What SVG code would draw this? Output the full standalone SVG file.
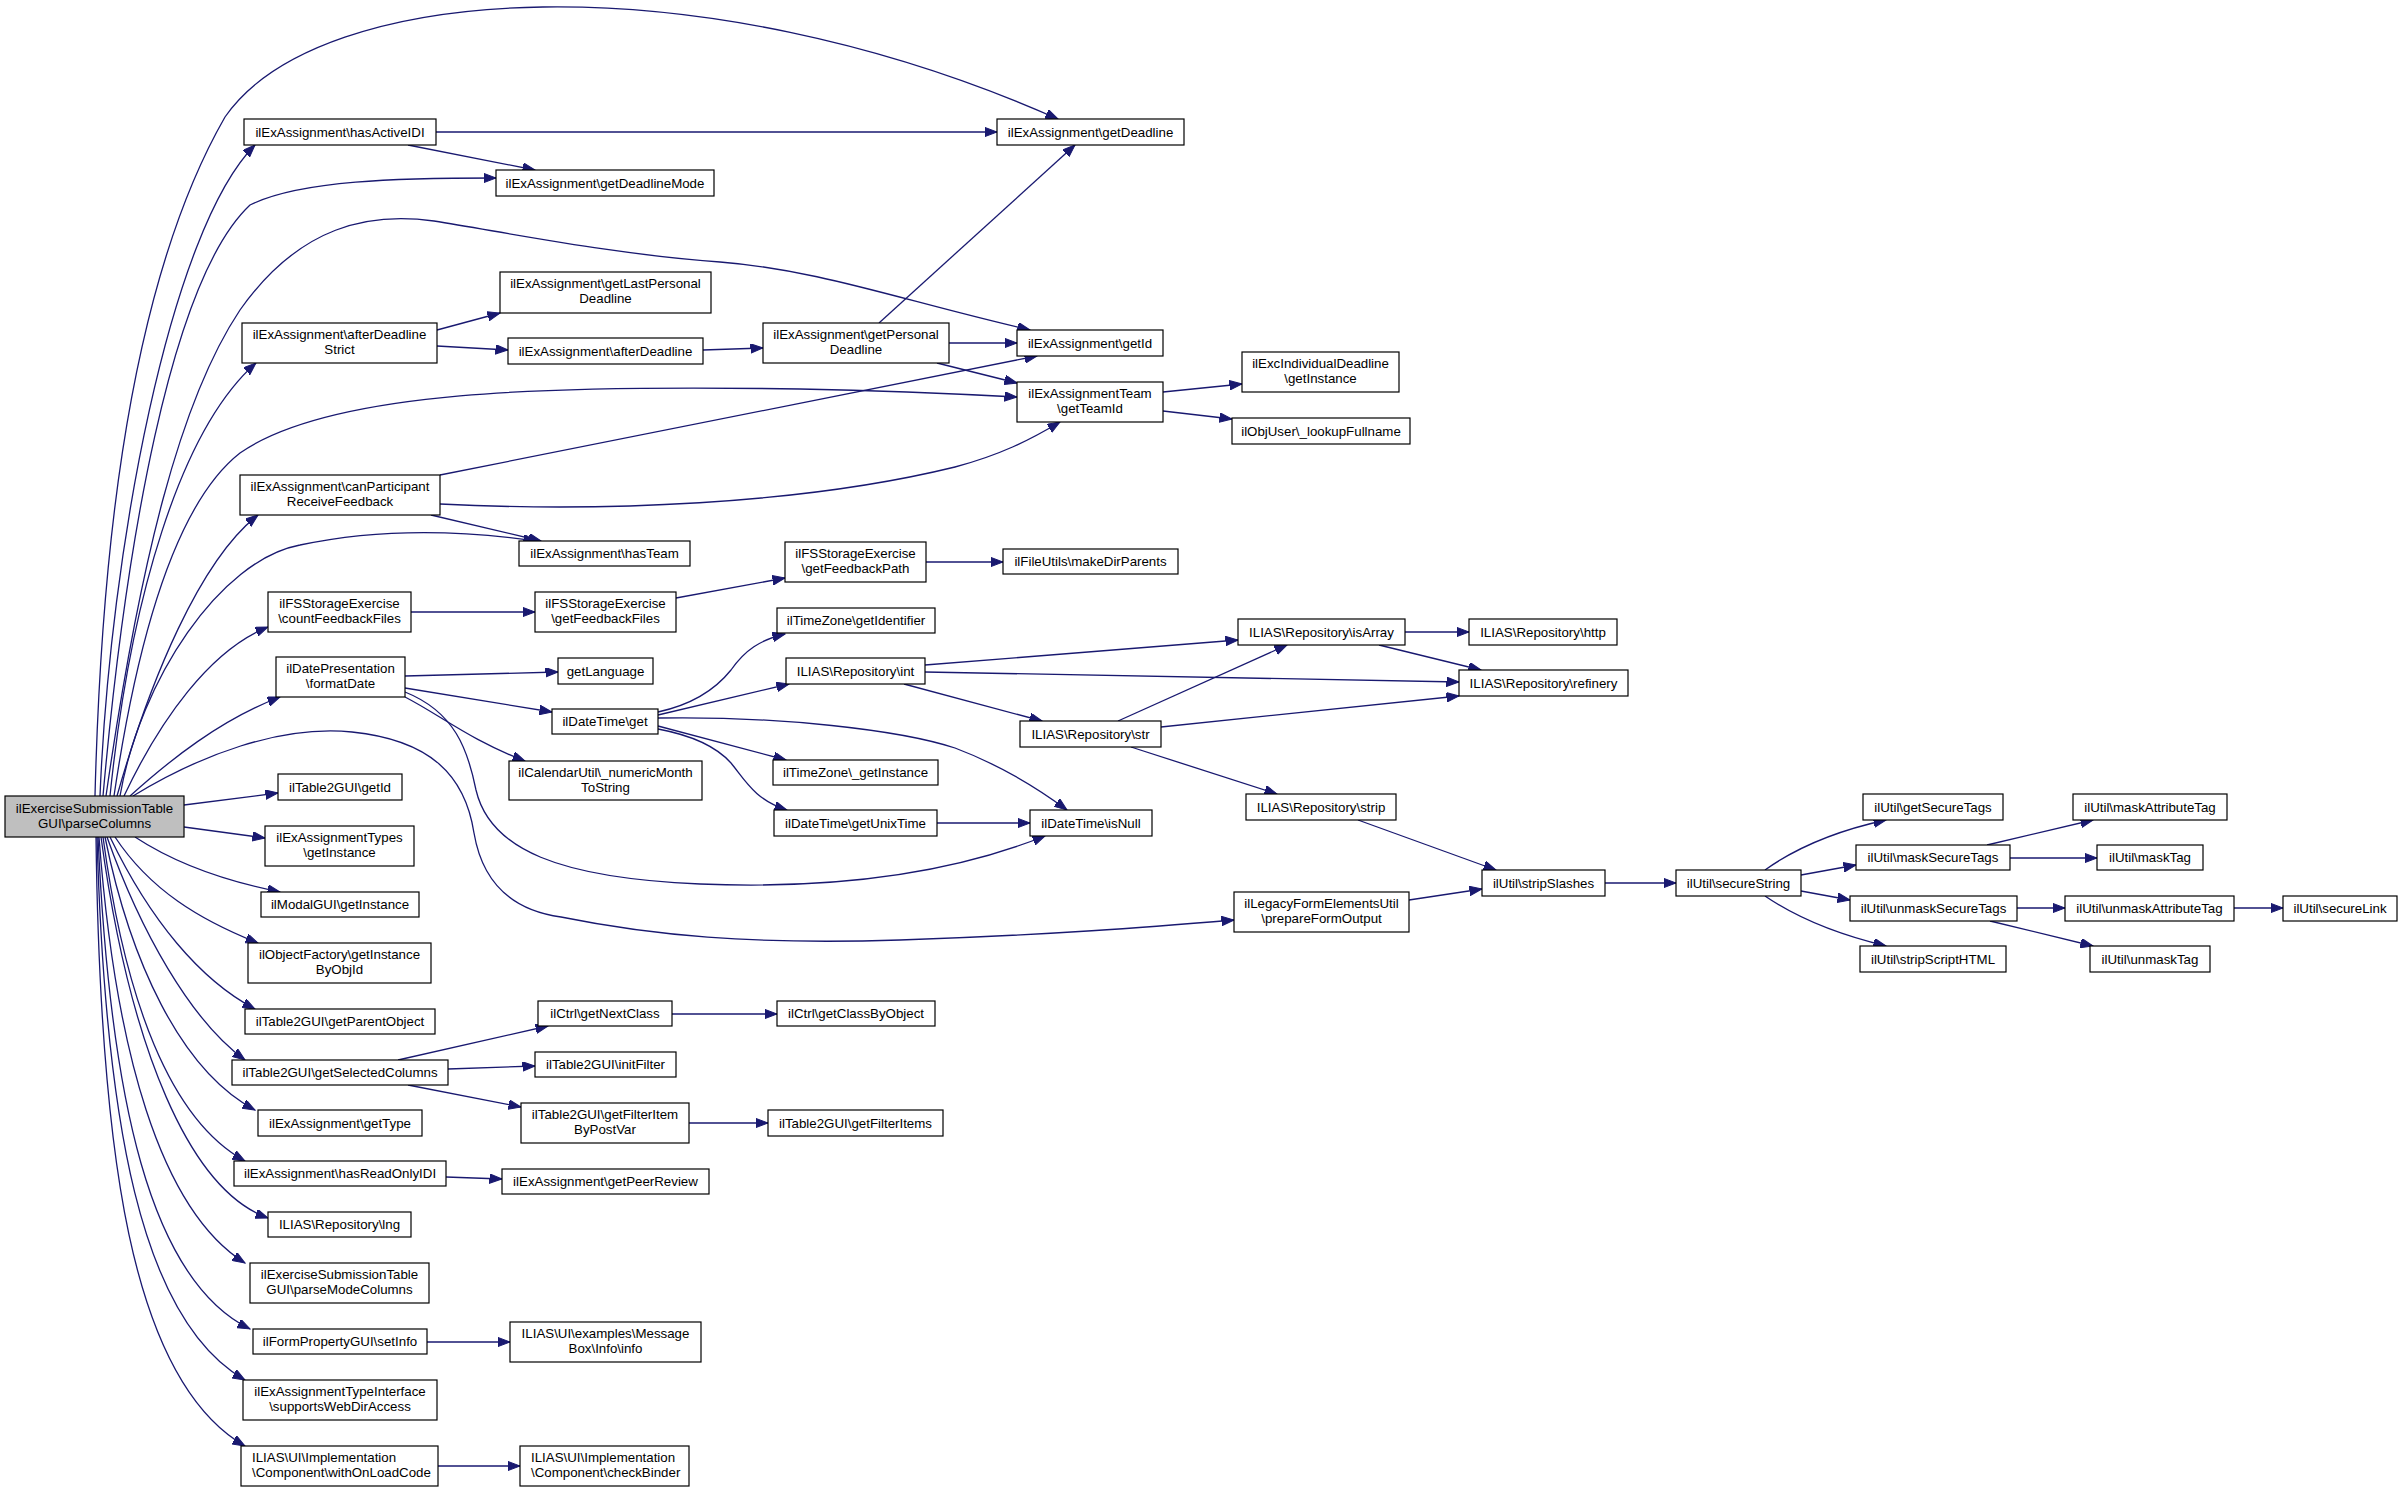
<svg xmlns="http://www.w3.org/2000/svg" width="2403" height="1492" viewBox="0 0 2403 1492">
<style>
.n rect{fill:#fff;stroke:#000;stroke-width:1.2}
.m rect{fill:#bfbfbf}
text{font-family:"Liberation Sans",Arial,sans-serif;font-size:13.3px;text-anchor:middle;fill:#000}
text.l{text-anchor:start}
#edges path{fill:none;stroke:#191970;stroke-width:1.3;marker-end:url(#arr)}
</style>
<defs>
<marker id="arr" markerWidth="14" markerHeight="10" refX="12.5" refY="4.75" orient="auto" markerUnits="userSpaceOnUse">
<path d="M0,0 L12.5,4.75 L0,9.5 z" fill="#191970" stroke="#191970" stroke-width="1"/>
</marker>
</defs>
<rect width="2403" height="1492" fill="#fff"/>
<g id="edges">
<path d="M95 796 C100 600 120 300 225 117 C320 -20 700 -40 1058 119"/>
<path d="M100 796 C110 550 170 230 255 145"/>
<path d="M103 796 C125 550 170 280 250 205 C300 180 400 178 496 178"/>
<path d="M106 796 C140 560 180 400 240 310 C300 225 370 212 434 221 C520 235 620 255 720 262 C820 270 900 300 1030 330"/>
<path d="M110 796 C130 600 180 430 256 363"/>
<path d="M114 796 C140 620 180 500 240 453 C330 390 550 385 800 389 C900 391 960 394 1017 397"/>
<path d="M117 796 C150 680 200 560 258 515"/>
<path d="M120 796 C140 680 220 560 300 545 C380 528 460 530 536 541"/>
<path d="M124 796 C160 720 210 650 268 627"/>
<path d="M130 796 C170 760 220 720 280 697"/>
<path d="M133 796 C200 755 280 725 352 732 C430 740 465 775 474 833 C482 880 510 910 561 917 C650 935 750 945 900 940 C1050 935 1150 927 1234 920"/>
<path d="M184 805 L278 793"/>
<path d="M184 827 L265 838"/>
<path d="M135 837 C170 860 220 880 280 892"/>
<path d="M115 837 C150 890 200 920 258 943"/>
<path d="M110 837 C150 920 200 980 255 1009"/>
<path d="M107 837 C140 930 190 1020 245 1060"/>
<path d="M105 837 C130 960 180 1070 255 1110"/>
<path d="M103 837 C125 1000 170 1120 245 1161"/>
<path d="M101 837 C130 1050 190 1190 268 1218"/>
<path d="M99 837 C115 1050 160 1210 245 1263"/>
<path d="M98 837 C110 1100 150 1280 250 1329"/>
<path d="M97 837 C105 1120 140 1320 245 1380"/>
<path d="M96 837 C100 1150 130 1380 245 1446"/>
<path d="M436 132 L997 132"/>
<path d="M408 145 L535 170"/>
<path d="M437 330 L500 313"/>
<path d="M437 346 L508 350"/>
<path d="M703 350 L763 348"/>
<path d="M879 323 L1075 145"/>
<path d="M949 343 L1017 343"/>
<path d="M937 363 L1017 383"/>
<path d="M440 475 L1037 356"/>
<path d="M440 504 C600 512 800 505 955 467 C1000 455 1030 440 1060 422"/>
<path d="M431 515 L541 541"/>
<path d="M411 612 L535 612"/>
<path d="M676 598 L785 578"/>
<path d="M926 562 L1003 562"/>
<path d="M405 676 L558 672"/>
<path d="M405 688 L552 712"/>
<path d="M405 697 C440 715 470 740 525 761"/>
<path d="M405 692 C455 712 468 750 476 790 C490 850 560 878 700 884 C850 890 960 870 1045 836"/>
<path d="M658 712 C690 705 715 690 731 670 C745 650 760 640 785 634"/>
<path d="M658 715 L789 684"/>
<path d="M658 718 C780 716 900 730 955 748 C1000 765 1040 790 1067 810"/>
<path d="M658 726 L786 760"/>
<path d="M658 729 C690 735 715 745 731 763 C745 780 755 800 787 810"/>
<path d="M937 823 L1030 823"/>
<path d="M925 665 L1238 640"/>
<path d="M925 672 L1459 682"/>
<path d="M904 684 L1042 721"/>
<path d="M1118 721 L1287 645"/>
<path d="M1161 727 L1459 696"/>
<path d="M1131 747 L1277 794"/>
<path d="M1405 632 L1469 632"/>
<path d="M1379 645 L1481 670"/>
<path d="M1358 820 L1496 870"/>
<path d="M1409 900 L1482 889"/>
<path d="M1605 883 L1676 883"/>
<path d="M1765 870 C1800 845 1840 830 1886 820"/>
<path d="M1801 875 L1856 865"/>
<path d="M1801 891 L1850 900"/>
<path d="M1765 896 C1800 920 1840 935 1886 946"/>
<path d="M1987 845 L2093 820"/>
<path d="M2010 858 L2097 858"/>
<path d="M2017 908 L2065 908"/>
<path d="M2234 908 L2283 908"/>
<path d="M1990 921 L2093 946"/>
<path d="M1163 392 L1242 384"/>
<path d="M1163 411 L1232 419"/>
<path d="M672 1014 L777 1014"/>
<path d="M398 1060 L548 1026"/>
<path d="M448 1069 L535 1066"/>
<path d="M408 1085 L521 1107"/>
<path d="M689 1123 L768 1123"/>
<path d="M446 1177 L502 1179"/>
<path d="M427 1342 L510 1342"/>
<path d="M438 1466 L520 1466"/>
</g>
<g id="n1" class="n m"><rect x="5" y="796" width="179" height="41"/><text x="94.5" y="812.5">ilExerciseSubmissionTable</text><text x="94.5" y="827.5">GUI\parseColumns</text></g>
<g id="n2" class="n"><rect x="244" y="119" width="192" height="26"/><text x="340" y="136.5">ilExAssignment\hasActiveIDI</text></g>
<g id="n3" class="n"><rect x="496" y="170" width="218" height="26"/><text x="605" y="187.5">ilExAssignment\getDeadlineMode</text></g>
<g id="n4" class="n"><rect x="500" y="272" width="211" height="41"/><text x="605.5" y="288">ilExAssignment\getLastPersonal</text><text x="605.5" y="303">Deadline</text></g>
<g id="n5" class="n"><rect x="242" y="323" width="195" height="40"/><text x="339.5" y="339">ilExAssignment\afterDeadline</text><text x="339.5" y="354">Strict</text></g>
<g id="n6" class="n"><rect x="508" y="338" width="195" height="26"/><text x="605.5" y="355.5">ilExAssignment\afterDeadline</text></g>
<g id="n7" class="n"><rect x="240" y="475" width="200" height="40"/><text x="340" y="491">ilExAssignment\canParticipant</text><text x="340" y="506">ReceiveFeedback</text></g>
<g id="n8" class="n"><rect x="519" y="541" width="171" height="25"/><text x="604.5" y="558">ilExAssignment\hasTeam</text></g>
<g id="n9" class="n"><rect x="268" y="592" width="143" height="40"/><text x="339.5" y="608">ilFSStorageExercise</text><text x="339.5" y="623">\countFeedbackFiles</text></g>
<g id="n10" class="n"><rect x="535" y="592" width="141" height="40"/><text x="605.5" y="608">ilFSStorageExercise</text><text x="605.5" y="623">\getFeedbackFiles</text></g>
<g id="n11" class="n"><rect x="276" y="657" width="129" height="40"/><text x="340.5" y="673">ilDatePresentation</text><text x="340.5" y="688">\formatDate</text></g>
<g id="n12" class="n"><rect x="558" y="658" width="95" height="26"/><text x="605.5" y="675.5">getLanguage</text></g>
<g id="n13" class="n"><rect x="552" y="709" width="106" height="25"/><text x="605" y="726">ilDateTime\get</text></g>
<g id="n14" class="n"><rect x="509" y="761" width="193" height="39"/><text x="605.5" y="776.5">ilCalendarUtil\_numericMonth</text><text x="605.5" y="791.5">ToString</text></g>
<g id="n15" class="n"><rect x="278" y="774" width="124" height="26"/><text x="340" y="791.5">ilTable2GUI\getId</text></g>
<g id="n16" class="n"><rect x="265" y="826" width="149" height="40"/><text x="339.5" y="842">ilExAssignmentTypes</text><text x="339.5" y="857">\getInstance</text></g>
<g id="n17" class="n"><rect x="261" y="892" width="158" height="25"/><text x="340" y="909">ilModalGUI\getInstance</text></g>
<g id="n18" class="n"><rect x="248" y="943" width="183" height="40"/><text x="339.5" y="959">ilObjectFactory\getInstance</text><text x="339.5" y="974">ByObjId</text></g>
<g id="n19" class="n"><rect x="245" y="1009" width="190" height="25"/><text x="340" y="1026">ilTable2GUI\getParentObject</text></g>
<g id="n20" class="n"><rect x="232" y="1060" width="216" height="25"/><text x="340" y="1077">ilTable2GUI\getSelectedColumns</text></g>
<g id="n21" class="n"><rect x="258" y="1110" width="164" height="26"/><text x="340" y="1127.5">ilExAssignment\getType</text></g>
<g id="n22" class="n"><rect x="234" y="1161" width="212" height="25"/><text x="340" y="1178">ilExAssignment\hasReadOnlyIDI</text></g>
<g id="n23" class="n"><rect x="268" y="1212" width="143" height="25"/><text x="339.5" y="1229">ILIAS\Repository\lng</text></g>
<g id="n24" class="n"><rect x="250" y="1263" width="179" height="40"/><text x="339.5" y="1279">ilExerciseSubmissionTable</text><text x="339.5" y="1294">GUI\parseModeColumns</text></g>
<g id="n25" class="n"><rect x="253" y="1329" width="174" height="25"/><text x="340" y="1346">ilFormPropertyGUI\setInfo</text></g>
<g id="n26" class="n"><rect x="243" y="1380" width="194" height="40"/><text x="340" y="1396">ilExAssignmentTypeInterface</text><text x="340" y="1411">\supportsWebDirAccess</text></g>
<g id="n27" class="n"><rect x="241" y="1446" width="197" height="40"/><text class="l" x="252" y="1462">ILIAS\UI\Implementation</text><text class="l" x="252" y="1477">\Component\withOnLoadCode</text></g>
<g id="n28" class="n"><rect x="538" y="1001" width="134" height="25"/><text x="605" y="1018">ilCtrl\getNextClass</text></g>
<g id="n29" class="n"><rect x="535" y="1052" width="141" height="25"/><text x="605.5" y="1069">ilTable2GUI\initFilter</text></g>
<g id="n30" class="n"><rect x="521" y="1103" width="168" height="40"/><text x="605" y="1119">ilTable2GUI\getFilterItem</text><text x="605" y="1134">ByPostVar</text></g>
<g id="n31" class="n"><rect x="502" y="1169" width="207" height="25"/><text x="605.5" y="1186">ilExAssignment\getPeerReview</text></g>
<g id="n32" class="n"><rect x="510" y="1322" width="191" height="40"/><text x="605.5" y="1338">ILIAS\UI\examples\Message</text><text x="605.5" y="1353">Box\Info\info</text></g>
<g id="n33" class="n"><rect x="520" y="1446" width="169" height="40"/><text class="l" x="531" y="1462">ILIAS\UI\Implementation</text><text class="l" x="531" y="1477">\Component\checkBinder</text></g>
<g id="n34" class="n"><rect x="997" y="119" width="187" height="26"/><text x="1090.5" y="136.5">ilExAssignment\getDeadline</text></g>
<g id="n35" class="n"><rect x="763" y="323" width="186" height="40"/><text x="856" y="339">ilExAssignment\getPersonal</text><text x="856" y="354">Deadline</text></g>
<g id="n36" class="n"><rect x="1017" y="330" width="146" height="26"/><text x="1090" y="347.5">ilExAssignment\getId</text></g>
<g id="n37" class="n"><rect x="1017" y="382" width="146" height="40"/><text x="1090" y="398">ilExAssignmentTeam</text><text x="1090" y="413">\getTeamId</text></g>
<g id="n38" class="n"><rect x="1242" y="352" width="157" height="40"/><text x="1320.5" y="368">ilExcIndividualDeadline</text><text x="1320.5" y="383">\getInstance</text></g>
<g id="n39" class="n"><rect x="1232" y="418" width="178" height="26"/><text x="1321" y="435.5">ilObjUser\_lookupFullname</text></g>
<g id="n40" class="n"><rect x="785" y="542" width="141" height="40"/><text x="855.5" y="558">ilFSStorageExercise</text><text x="855.5" y="573">\getFeedbackPath</text></g>
<g id="n41" class="n"><rect x="1003" y="549" width="175" height="25"/><text x="1090.5" y="566">ilFileUtils\makeDirParents</text></g>
<g id="n42" class="n"><rect x="777" y="608" width="158" height="25"/><text x="856" y="625">ilTimeZone\getIdentifier</text></g>
<g id="n43" class="n"><rect x="786" y="658" width="139" height="26"/><text x="855.5" y="675.5">ILIAS\Repository\int</text></g>
<g id="n44" class="n"><rect x="773" y="760" width="165" height="25"/><text x="855.5" y="777">ilTimeZone\_getInstance</text></g>
<g id="n45" class="n"><rect x="774" y="810" width="163" height="26"/><text x="855.5" y="827.5">ilDateTime\getUnixTime</text></g>
<g id="n46" class="n"><rect x="1030" y="810" width="122" height="26"/><text x="1091" y="827.5">ilDateTime\isNull</text></g>
<g id="n47" class="n"><rect x="1238" y="619" width="167" height="26"/><text x="1321.5" y="636.5">ILIAS\Repository\isArray</text></g>
<g id="n48" class="n"><rect x="1469" y="619" width="148" height="26"/><text x="1543" y="636.5">ILIAS\Repository\http</text></g>
<g id="n49" class="n"><rect x="1459" y="670" width="169" height="26"/><text x="1543.5" y="687.5">ILIAS\Repository\refinery</text></g>
<g id="n50" class="n"><rect x="1020" y="721" width="141" height="26"/><text x="1090.5" y="738.5">ILIAS\Repository\str</text></g>
<g id="n51" class="n"><rect x="1246" y="794" width="150" height="26"/><text x="1321" y="811.5">ILIAS\Repository\strip</text></g>
<g id="n52" class="n"><rect x="1234" y="892" width="175" height="40"/><text x="1321.5" y="908">ilLegacyFormElementsUtil</text><text x="1321.5" y="923">\prepareFormOutput</text></g>
<g id="n53" class="n"><rect x="1482" y="870" width="123" height="26"/><text x="1543.5" y="887.5">ilUtil\stripSlashes</text></g>
<g id="n54" class="n"><rect x="1676" y="870" width="125" height="26"/><text x="1738.5" y="887.5">ilUtil\secureString</text></g>
<g id="n55" class="n"><rect x="1863" y="794" width="140" height="26"/><text x="1933" y="811.5">ilUtil\getSecureTags</text></g>
<g id="n56" class="n"><rect x="1856" y="845" width="154" height="25"/><text x="1933" y="862">ilUtil\maskSecureTags</text></g>
<g id="n57" class="n"><rect x="1850" y="896" width="167" height="25"/><text x="1933.5" y="913">ilUtil\unmaskSecureTags</text></g>
<g id="n58" class="n"><rect x="1860" y="946" width="146" height="26"/><text x="1933" y="963.5">ilUtil\stripScriptHTML</text></g>
<g id="n59" class="n"><rect x="2073" y="794" width="154" height="26"/><text x="2150" y="811.5">ilUtil\maskAttributeTag</text></g>
<g id="n60" class="n"><rect x="2097" y="845" width="106" height="25"/><text x="2150" y="862">ilUtil\maskTag</text></g>
<g id="n61" class="n"><rect x="2065" y="896" width="169" height="25"/><text x="2149.5" y="913">ilUtil\unmaskAttributeTag</text></g>
<g id="n62" class="n"><rect x="2283" y="896" width="114" height="25"/><text x="2340" y="913">ilUtil\secureLink</text></g>
<g id="n63" class="n"><rect x="2090" y="946" width="120" height="26"/><text x="2150" y="963.5">ilUtil\unmaskTag</text></g>
<g id="n64" class="n"><rect x="777" y="1001" width="158" height="25"/><text x="856" y="1018">ilCtrl\getClassByObject</text></g>
<g id="n65" class="n"><rect x="768" y="1110" width="175" height="26"/><text x="855.5" y="1127.5">ilTable2GUI\getFilterItems</text></g>
</svg>
